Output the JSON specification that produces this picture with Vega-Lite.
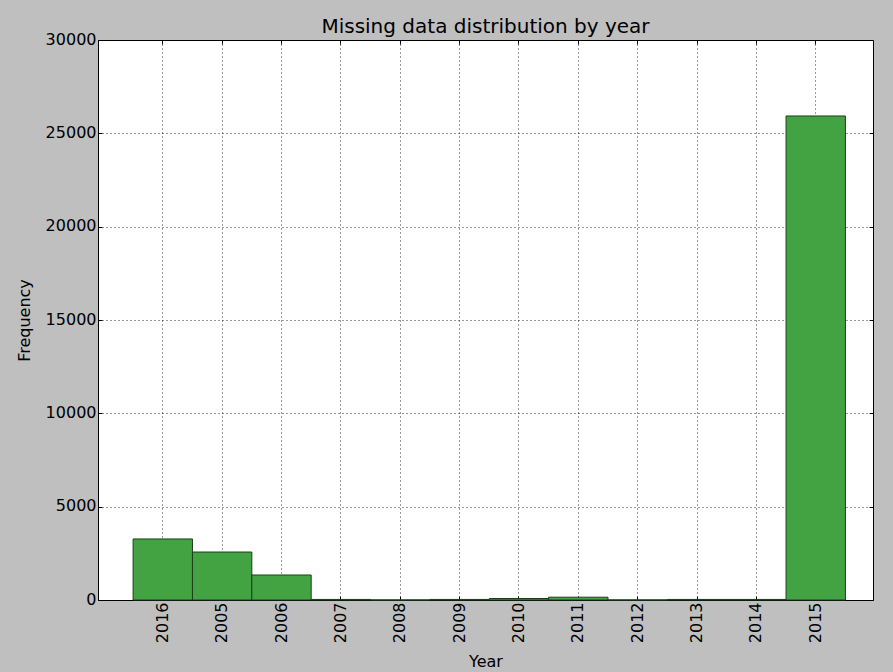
{
  "$schema": "https://vega.github.io/schema/vega-lite/v6.json",
  "autosize": "none",
  "width": 775,
  "height": 560,
  "padding": {"left": 98, "top": 40, "right": 20, "bottom": 72},
  "background": "#bfbfbf",
  "config": {
    "font": "DejaVu Sans",
    "view": {"stroke": "#000000", "strokeWidth": 1, "fill": "#ffffff"},
    "axis": {
      "labelFont": "DejaVu Sans",
      "titleFont": "DejaVu Sans",
      "labelFontSize": 16,
      "titleFontSize": 16,
      "titleFontWeight": "normal",
      "labelColor": "#000000",
      "titleColor": "#000000",
      "domain": false,
      "tickColor": "#000000",
      "tickSize": -4,
      "gridColor": "#000000",
      "gridDash": [1, 3],
      "gridOpacity": 1,
      "gridWidth": 0.8
    }
  },
  "title": {
    "text": "Missing data distribution by year",
    "fontSize": 20,
    "fontWeight": "normal",
    "font": "DejaVu Sans",
    "color": "#000000",
    "anchor": "middle",
    "offset": -6
  },
  "data": {
    "values": [
      {"year": "2016", "count": 3270},
      {"year": "2005", "count": 2570},
      {"year": "2006", "count": 1340},
      {"year": "2007", "count": 30},
      {"year": "2008", "count": 5},
      {"year": "2009", "count": 30},
      {"year": "2010", "count": 80},
      {"year": "2011", "count": 150},
      {"year": "2012", "count": 5},
      {"year": "2013", "count": 30},
      {"year": "2014", "count": 30},
      {"year": "2015", "count": 25930}
    ]
  },
  "layer": [
    {
      "mark": {"type": "bar", "fill": "#43a343", "stroke": "#1d3d1d", "strokeWidth": 1},
      "encoding": {
        "x": {
          "field": "year",
          "type": "nominal",
          "sort": null,
          "scale": {"paddingInner": 0, "paddingOuter": 0.528, "align": 0.56},
          "axis": {
            "orient": "bottom",
            "title": "Year",
            "labelAngle": -90,
            "labelPadding": 6,
            "bandPosition": 0.5,
            "grid": true,
            "titlePadding": 11
          }
        },
        "y": {
          "field": "count",
          "type": "quantitative",
          "scale": {"domain": [0, 30000], "nice": false},
          "axis": {
            "orient": "left",
            "title": "Frequency",
            "values": [0, 5000, 10000, 15000, 20000, 25000, 30000],
            "format": "d",
            "labelPadding": 6,
            "labelOffset": -1,
            "grid": true,
            "titlePadding": 13
          }
        }
      }
    },
    {
      "mark": {"type": "bar", "opacity": 0},
      "encoding": {
        "x": {
          "field": "year",
          "type": "nominal",
          "sort": null,
          "axis": {"orient": "top", "labels": false, "title": null, "bandPosition": 0.5, "grid": false}
        },
        "y": {
          "field": "count",
          "type": "quantitative",
          "axis": {"orient": "right", "labels": false, "title": null, "values": [0, 5000, 10000, 15000, 20000, 25000, 30000], "grid": false}
        }
      }
    }
  ],
  "resolve": {"axis": {"x": "independent", "y": "independent"}}
}
